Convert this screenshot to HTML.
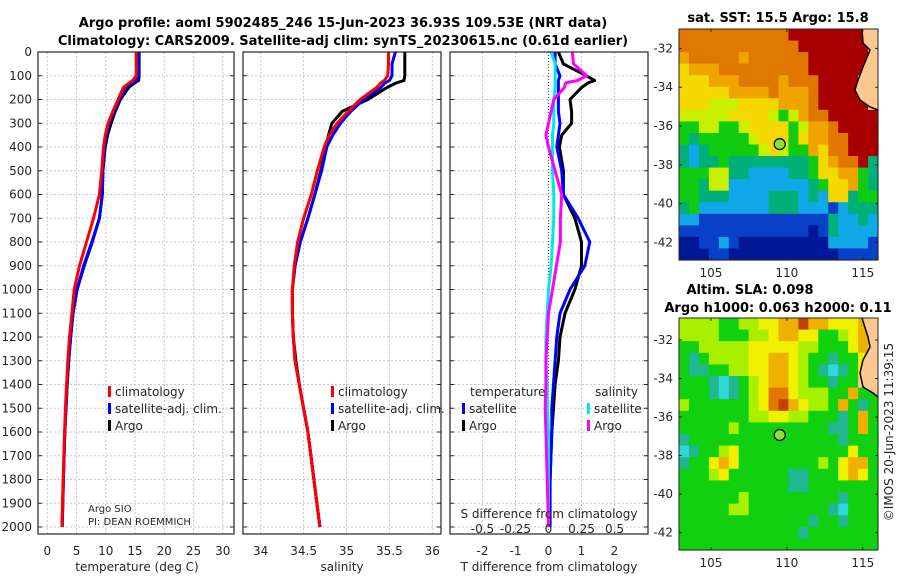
<!DOCTYPE html>
<html><head><meta charset="utf-8"><style>
html,body{margin:0;padding:0;background:#fff;}
svg{display:block;font-family:"DejaVu Sans","Liberation Sans",sans-serif;}
.t{font-size:12px;fill:#262626;}
.b{font-weight:bold;font-size:13px;fill:#000;}
</style></head><body>
<svg id="chart" width="900" height="580" viewBox="0 0 900 580">
<defs>
<clipPath id="c1"><rect x="38" y="52" width="196" height="482"/></clipPath>
<clipPath id="c2"><rect x="243" y="52" width="198" height="482"/></clipPath>
<clipPath id="c3"><rect x="450" y="52" width="198" height="482"/></clipPath>
</defs>
<text class="b" x="343" y="27" text-anchor="middle">Argo profile: aoml 5902485_246 15-Jun-2023 36.93S 109.53E (NRT data)</text>
<text class="b" x="343" y="45" text-anchor="middle">Climatology: CARS2009. Satellite-adj clim: synTS_20230615.nc (0.61d earlier)</text>
<g id="grid"></g>
<g id="series"></g>
<g id="frames"></g>
<g id="labels"></g>
<g id="maps"></g>
</svg>
<script>
const depths=[0,50,100,120,130,150,200,250,300,350,400,500,600,700,800,900,1000,1100,1200,1300,1400,1500,1600,1800,2000];
const tempClim=[15.2,15.2,15.2,14.6,14.0,13.0,12.1,11.2,10.4,9.9,9.6,9.3,8.9,7.9,6.7,5.5,4.6,4.2,3.8,3.5,3.3,3.1,2.95,2.7,2.5];
const tempSat=[15.6,15.6,15.6,15.2,14.5,13.4,12.4,11.4,10.6,10.1,9.8,9.5,9.4,8.9,7.6,6.2,5.1,4.4,4.0,3.65,3.4,3.2,3.0,2.75,2.55];
const tempArgo=[15.7,15.7,15.7,15.6,14.9,13.9,12.5,11.6,10.9,10.3,9.9,9.5,9.4,8.9,7.7,6.3,5.1,4.4,4.0,3.65,3.4,3.2,3.0,2.75,2.55];
const salClim=[35.49,35.49,35.48,35.44,35.40,35.35,35.16,35.02,34.89,34.80,34.74,34.66,34.59,34.50,34.43,34.39,34.37,34.37,34.38,34.40,34.45,34.50,34.55,34.62,34.69];
const salSat=[35.57,35.53,35.53,35.50,35.45,35.40,35.20,35.05,34.93,34.84,34.77,34.71,34.63,34.55,34.46,34.40,34.37,34.37,34.38,34.40,34.45,34.50,34.55,34.62,34.69];
const salArgo=[35.68,35.68,35.68,35.67,35.58,35.47,35.25,34.95,34.83,34.79,34.76,34.70,34.63,34.55,34.46,34.40,34.37,34.37,34.38,34.41,34.45,34.50,34.55,34.62,34.69];
const tDiffSat=[0.2,0.2,0.35,0.3,0.3,0.3,0.3,0.3,0.35,0.3,0.25,0.4,0.45,0.9,1.25,1.1,0.65,0.35,0.25,0.2,0.15,0.1,0.1,0.05,0.05];
const tDiffArgo=[0.3,0.45,1.15,1.4,1.2,1.0,0.65,0.7,0.7,0.4,0.33,0.45,0.45,0.8,1.0,1.0,0.8,0.5,0.35,0.3,0.2,0.15,0.1,0.05,0.0];
const sDiffSat=[0.02,0.05,0.05,0.05,0.05,0.05,0.04,0.04,0.04,0.03,0.03,0.03,0.04,0.04,0.03,0.02,0.0,-0.01,-0.02,-0.02,-0.01,-0.01,0.0,0.0,0.0];
const sDiffArgo=[0.18,0.19,0.29,0.22,0.13,0.12,0.04,0.02,0.0,-0.02,0.0,0.05,0.1,0.09,0.09,0.06,0.03,0.0,-0.01,-0.02,-0.02,-0.025,-0.02,-0.01,0.0];
const depthTicks=[0,100,200,300,400,500,600,700,800,900,1000,1100,1200,1300,1400,1500,1600,1700,1800,1900,2000];
const tempTicks=[0,5,10,15,20,25,30];
const salTicks=[34,34.5,35,35.5,36];
const salTickLabels=["34","34.5","35","35.5","36"];
const tDiffTicks=[-2,-1,0,1,2];
const sDiffTicks=[-0.5,-0.25,0,0.25,0.5];
const sDiffTickLabels=["-0.5","-0.25","0","0.25","0.5"];
const sstGrid=[
"OOOOOOOOOOORRRRRRRRL","OOOOOOOOOOOORRRRRRRL","oOOOOOoOOOOOORRRRRRL","YoooOOOOOOOOORRRRRRL",
"YYYoooOOOOoOOORRRRLL","YYYYYooooOoooORRRRLL","YYYyyyYYYYoooORRRRRL","yyyyyYYYYyGyoOORRRRR",
"GGyyGGyYYYYGyooORRRR","GgGGGGGyYYYGYooOORRR","gCgGGGGGyYyGGoYOORRR","gCggGggggggggGYoOORg",
"GGGyyggCCCCggGYYooGg","GGgyyCCCCCCCCgGYYoGg","GGgggCCCCgggCgCYYgGG","gGCCCCCCCgggCCCBCggg",
"CCBBBBBBBBBBBBBgCCgC","BBBBBBBBBBBBBNBgCCCC","NNBBCBNNNNNNNNNCCCCB","NNNBBNNNNNNNNNNNBBBB"];
const slaGrid=[
"yyyyGGyyYYOOROOYYYOL","yyyyGGGyyYOOYYGGyYOL","GGyyyyyYYYYYyyGGGYOL","GTGyyyyYYOOYyGGTGGYL",
"GTTGGyyYYOOYyGTCTGYL","GGGTCTGyYOOYyGGTGGLL","GGGTCTGyYDDYyyyGGOGG","yGGGGGGyYDROYyyGOGTG",
"GGGGGGGyyYYyyGGGTGOG","GGGGGyGGGGGGGGGTTGOG","TGGGGGGGGGGGGGGGTGGG","CTGGyYGGGGGGGGGGGYGG",
"TGGYOYGGGGGGGGyGYOOG","GGGyYGGGGGGTTGGGYOYG","GGGGGGGGGGGTTGGGGGGG","GGGGGGyGGGGGGGGGTGGG",
"GGGGGyyGGGGGGGGTCGGG","GGGGGGGGGGGGGTGGTGGG","GGGGGGGGGGGGTGGGGGGG","GGGGGGGGGGGGGGGGGGGG"];
const latTicks=[-32,-34,-36,-38,-40,-42];
const lonTicks=[105,110,115];
const argoLon=109.53, argoLat=-36.93;

const NS="http://www.w3.org/2000/svg";
function mk(tag,attrs,parent){const e=document.createElementNS(NS,tag);for(const k in attrs)e.setAttribute(k,attrs[k]);parent.appendChild(e);return e;}
const G=id=>document.getElementById(id);
const y=z=>52+z*0.2375;
const x1=t=>47.3+t*5.85;
const x2=s=>260.7+(s-34)*85.8;
const x3=d=>548.5+d*33;
const x3s=s=>x3(s*4);
const panels=[[38,196],[243,198],[450,198]];

// grid
const grid=G('grid');
panels.forEach((p,i)=>{
  depthTicks.forEach(d=>{
    const l=mk('line',{x1:p[0],x2:p[0]+p[1],y1:y(d),y2:y(d),stroke:'#c9c3dc','stroke-dasharray':'2,2','stroke-width':1},grid);
    
    
  });
});
tempTicks.forEach(t=>{const l=mk('line',{x1:x1(t),x2:x1(t),y1:52,y2:534,stroke:'#c9c3dc','stroke-dasharray':'2,2'},grid);
  });
salTicks.forEach(t=>{const l=mk('line',{x1:x2(t),x2:x2(t),y1:52,y2:534,stroke:'#c9c3dc','stroke-dasharray':'2,2'},grid);
  });
tDiffTicks.forEach(t=>{if(t===0)return;const l=mk('line',{x1:x3(t),x2:x3(t),y1:52,y2:534,stroke:'#c9c3dc','stroke-dasharray':'2,2'},grid);
  });
const zl=mk('line',{x1:x3(0),x2:x3(0),y1:52,y2:534,stroke:'#406040','stroke-dasharray':'1,2','stroke-width':1.2},grid);


// series
const ser=G('series');
function line(vals,fx,color,clip,name){
  const pts=vals.map((v,i)=>fx(v).toFixed(1)+','+y(depths[i]).toFixed(1)).join(' ');
  const e=mk('polyline',{points:pts,fill:'none',stroke:color,'stroke-width':3,'stroke-linejoin':'round','clip-path':'url(#'+clip+')'},ser);
  
  
}
line(tempArgo,x1,'#000','c1','temperature-argo-line');
line(tempSat,x1,'#0000ff','c1','temperature-satellite-line');
line(tempClim,x1,'#ff0000','c1','temperature-climatology-line');
line(salArgo,x2,'#000','c2','salinity-argo-line');
line(salSat,x2,'#0000ff','c2','salinity-satellite-line');
line(salClim,x2,'#ff0000','c2','salinity-climatology-line');
line(tDiffArgo,x3,'#000','c3','t-diff-argo-line');
line(tDiffSat,x3,'#0000ff','c3','t-diff-satellite-line');
line(sDiffSat,x3s,'#00e8e8','c3','s-diff-satellite-line');
line(sDiffArgo,x3s,'#ff00ff','c3','s-diff-argo-line');

// frames & ticks
const fr=G('frames');
panels.forEach((p,i)=>{
  const r=mk('rect',{x:p[0],y:52,width:p[1],height:482,fill:'none',stroke:'#262626','stroke-width':1.2},fr);
  
  
  depthTicks.forEach(d=>{
    mk('line',{x1:p[0],x2:p[0]+4,y1:y(d),y2:y(d),stroke:'#262626'},fr);
    mk('line',{x1:p[0]+p[1]-4,x2:p[0]+p[1],y1:y(d),y2:y(d),stroke:'#262626'},fr);
  });
});

// labels
const lb=G('labels');
function txt(s,x,yy,attrs,name){const e=mk('text',Object.assign({x:x,y:yy,class:'t'},attrs||{}),lb);e.textContent=s;
  return e;}
depthTicks.forEach(d=>txt(String(d),32,y(d)+4,{'text-anchor':'end'},'depth-tick-label'));
tempTicks.forEach(t=>txt(String(t),x1(t),555,{'text-anchor':'middle'},'temperature-tick-label'));
salTicks.forEach((t,i)=>txt(salTickLabels[i],x2(t),555,{'text-anchor':'middle'},'salinity-tick-label'));
tDiffTicks.forEach(t=>txt(String(t),x3(t),555,{'text-anchor':'middle'},'t-difference-tick-label'));
sDiffTicks.forEach((t,i)=>txt(sDiffTickLabels[i],x3s(t),533,{'text-anchor':'middle'},'s-difference-tick-label'));
txt('temperature (deg C)',137,571,{'text-anchor':'middle'},'temperature-axis-title');
txt('salinity',342,571,{'text-anchor':'middle'},'salinity-axis-title');
txt('T difference from climatology',549,571,{'text-anchor':'middle'},'t-difference-axis-title');
txt('S difference from climatology',549,518,{'text-anchor':'middle'},'s-difference-axis-title');
txt('Argo SIO',88,512,{style:'font-size:10px'},'float-institution');
txt('PI: DEAN ROEMMICH',88,525,{style:'font-size:10px'},'float-pi');
function leg(x,yy,color,label,name){
  const r=mk('rect',{x:x,y:yy-10,width:3,height:11,fill:color},lb);
  
  txt(label,x+7,yy,{},name);
}
leg(108,396,'#ff0000','climatology','legend-climatology');
leg(108,413,'#0000ff','satellite-adj. clim.','legend-satellite-adj');
leg(108,430,'#000','Argo','legend-argo');
leg(331,396,'#ff0000','climatology','legend-climatology-2');
leg(331,413,'#0000ff','satellite-adj. clim.','legend-satellite-adj-2');
leg(331,430,'#000','Argo','legend-argo-2');
txt('temperature',470,396,{},'legend-temperature-heading');
leg(462,413,'#0000ff','satellite','legend-t-satellite');
leg(462,430,'#000','Argo','legend-t-argo');
txt('salinity',595,396,{},'legend-salinity-heading');
leg(587,413,'#00e8e8','satellite','legend-s-satellite');
leg(587,430,'#ff00ff','Argo','legend-s-argo');

// maps
const mp=G('maps');
const pal={R:'#a80000',O:'#e07800',o:'#f0a400',Y:'#f5d800',y:'#c8f000',G:'#10cc10',g:'#00b078',C:'#10a8e8',B:'#0840c8',N:'#001898',L:'#fcc890',T:'#30b488',D:'#e08000'};
const slaPal={G:'#10d010',y:'#a8f000',Y:'#f0f000',O:'#f0b000',D:'#e07800',R:'#c04000',T:'#20b890',C:'#30d8d8',L:'#fcc890'};
function drawMap(gridRows,palette,top,lonMin,lonMax,latTop,latBot,bottom,name,coast){
  const L=679,R=878,W=R-L,H=bottom-top;
  const g=mk('g',{},mp);
  const nr=gridRows.length,nc=gridRows[0].length,cw=W/nc,ch=H/nr;
  gridRows.forEach((row,ri)=>{for(let ci=0;ci<nc;ci++){
    const c=mk('rect',{x:(L+ci*cw).toFixed(2),y:(top+ri*ch).toFixed(2),width:(cw+0.6).toFixed(2),height:(ch+0.6).toFixed(2),fill:palette[row[ci]]},g);
  }});
  const mx=lon=>L+(lon-lonMin)/(lonMax-lonMin)*W;
  const my=lat=>top+(latTop-lat)/(latTop-latBot)*H;
  const cp=mk('polygon',{points:coast.map(p=>p.join(',')).join(' ')+' 878,'+coast[coast.length-1][1]+' 878,'+coast[0][1],fill:'#fcc890',stroke:'none'},g);
  const cl=mk('polyline',{points:coast.map(p=>p.join(',')).join(' '),fill:'none',stroke:'#000','stroke-width':1.5},g);
  
  const fm=mk('rect',{x:L,y:top,width:W,height:H,fill:'none',stroke:'#262626'},g);
  latTicks.forEach(la=>{const yy=my(la);mk('line',{x1:L,x2:L+3,y1:yy,y2:yy,stroke:'#262626'},g);mk('line',{x1:R-3,x2:R,y1:yy,y2:yy,stroke:'#262626'},g);
    txt(String(la),673,yy+4,{'text-anchor':'end'},'latitude-tick-label');});
  lonTicks.forEach(lo=>{const xx=mx(lo);mk('line',{x1:xx,x2:xx,y1:bottom-3,y2:bottom,stroke:'#262626'},g);mk('line',{x1:xx,x2:xx,y1:top,y2:top+3,stroke:'#262626'},g);
    txt(String(lo),xx,bottom+17,{'text-anchor':'middle'},'longitude-tick-label');});
  const m=mk('circle',{cx:mx(argoLon),cy:my(argoLat),r:5.5,fill:'#90e030',stroke:'#000','stroke-width':1.2},g);
  
}
drawMap(sstGrid,pal,29,102.9,116.0,-31.0,-42.9,260,'sst-map',
  [[862,29],[863,43],[870,50],[863,67],[857,83],[855,90],[860,100],[870,107],[878,110]]);
drawMap(slaGrid,slaPal,318,102.9,116.0,-30.86,-42.9,550,'sla-map',
  [[862,318],[868,337],[870,347],[863,360],[860,373],[863,387],[873,393],[878,397]]);
const t1=mk('text',{x:778,y:22,class:'b','text-anchor':'middle'},lb);t1.textContent='sat. SST: 15.5 Argo: 15.8';

const t2=mk('text',{x:750,y:294,class:'b','text-anchor':'middle'},lb);t2.textContent='Altim. SLA: 0.098';

const t3=mk('text',{x:778,y:312,class:'b','text-anchor':'middle'},lb);t3.textContent='Argo h1000: 0.063 h2000: 0.11';

const t4=mk('text',{x:0,y:0,class:'t','text-anchor':'middle',transform:'translate(893,432) rotate(-90)'},lb);t4.textContent='©IMOS 20-Jun-2023 11:39:15';

</script>
</body></html>
